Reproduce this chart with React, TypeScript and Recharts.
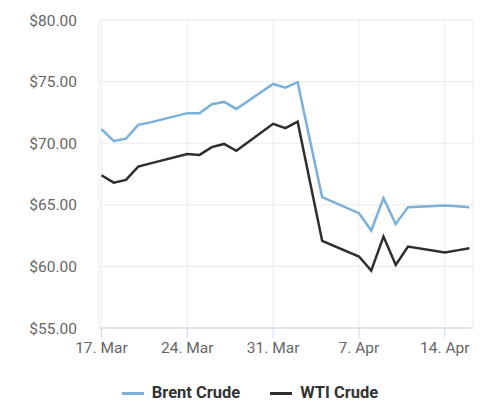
import React from 'react';
import { LineChart, Line, XAxis, YAxis, CartesianGrid, Legend } from 'recharts';

// trading days, 17 Mar – 16 Apr
const dates = [
  '2025-03-17', '2025-03-18', '2025-03-19', '2025-03-20', '2025-03-21',
  '2025-03-24', '2025-03-25', '2025-03-26', '2025-03-27', '2025-03-28',
  '2025-03-31', '2025-04-01', '2025-04-02', '2025-04-03', '2025-04-04',
  '2025-04-07', '2025-04-08', '2025-04-09', '2025-04-10', '2025-04-11',
  '2025-04-14', '2025-04-15', '2025-04-16',
];

const brent = [
  71.14, 70.19, 70.37, 71.49, 71.69,
  72.44, 72.44, 73.17, 73.35, 72.78,
  74.81, 74.51, 74.95, 70.25, 65.62,
  64.32, 62.91, 65.54, 63.43, 64.81,
  64.94, 64.88, 64.81,
];

const wti = [
  67.40, 66.80, 67.02, 68.10, 68.36,
  69.13, 69.05, 69.68, 69.94, 69.38,
  71.57, 71.22, 71.75, 66.90, 62.07,
  60.80, 59.66, 62.42, 60.12, 61.61,
  61.12, 61.30, 61.48,
];

const tickDates = ['2025-03-17', '2025-03-24', '2025-03-31', '2025-04-07', '2025-04-14'];
const tickLabels = ['17. Mar', '24. Mar', '31. Mar', '7. Apr', '14. Apr'];
const yTicks = [55, 60, 65, 70, 75, 80];

const DAY = 86400000;
const start = Date.parse(dates[0]);
const dayOf = (d: string) => Math.round((Date.parse(d) - start) / DAY);

const data = dates.map((d, i) => ({ day: dayOf(d), brent: brent[i], wti: wti[i] }));
const xTicks = tickDates.map(dayOf);

const renderLegend = (props: any) => {
  const { payload = [] } = props;
  return (
    <div style={{ display: 'flex', justifyContent: 'center', gap: 30, height: 22 }}>
      {payload.map((entry: any) => (
        <div key={entry.value} style={{ display: 'flex', alignItems: 'center' }}>
          <span style={{ display: 'inline-block', width: 22, height: 3, background: entry.color, marginRight: 8 }} />
          <span style={{ fontSize: 16.5, fontWeight: 700, color: '#333', lineHeight: '22px' }}>{entry.value}</span>
        </div>
      ))}
    </div>
  );
};

export default function App() {
  return (
    <div style={{ position: 'absolute', left: 0, top: 0, width: 500, height: 416, background: '#fff', fontFamily: 'Roboto, sans-serif' }}>
      <LineChart width={500} height={416} data={data} margin={{ top: 20, right: 27, bottom: 36, left: 0 }}>
        <CartesianGrid stroke="#ebebeb" vertical={true} horizontal={true} />
        <XAxis
          dataKey="day"
          type="number"
          domain={[-0.2, 30.3]}
          ticks={xTicks}
          tickFormatter={(v: number) => tickLabels[xTicks.indexOf(v)] ?? ''}
          axisLine={{ stroke: '#ccd6eb' }}
          tickLine={{ stroke: '#ccd6eb' }}
          tickSize={10}
          tickMargin={4}
          tick={{ fill: '#666', fontSize: 15.5 }}
          height={30}
        />
        <YAxis
          type="number"
          domain={[55, 80]}
          ticks={yTicks}
          tickFormatter={(v: number) => `$${v.toFixed(2)}`}
          axisLine={false}
          tickLine={false}
          tickSize={0}
          tickMargin={22}
          tick={{ fill: '#666', fontSize: 15.5 }}
          width={99}
        />
        <Legend content={renderLegend} wrapperStyle={{ top: 382, left: 0, width: 500 }} />
        <Line
          type="linear"
          dataKey="brent"
          name="Brent Crude"
          stroke="#7ab0d9"
          strokeWidth={2.5}
          dot={false}
          isAnimationActive={false}
        />
        <Line
          type="linear"
          dataKey="wti"
          name="WTI Crude"
          stroke="#2e2e2e"
          strokeWidth={2.5}
          dot={false}
          isAnimationActive={false}
        />
      </LineChart>
    </div>
  );
}
